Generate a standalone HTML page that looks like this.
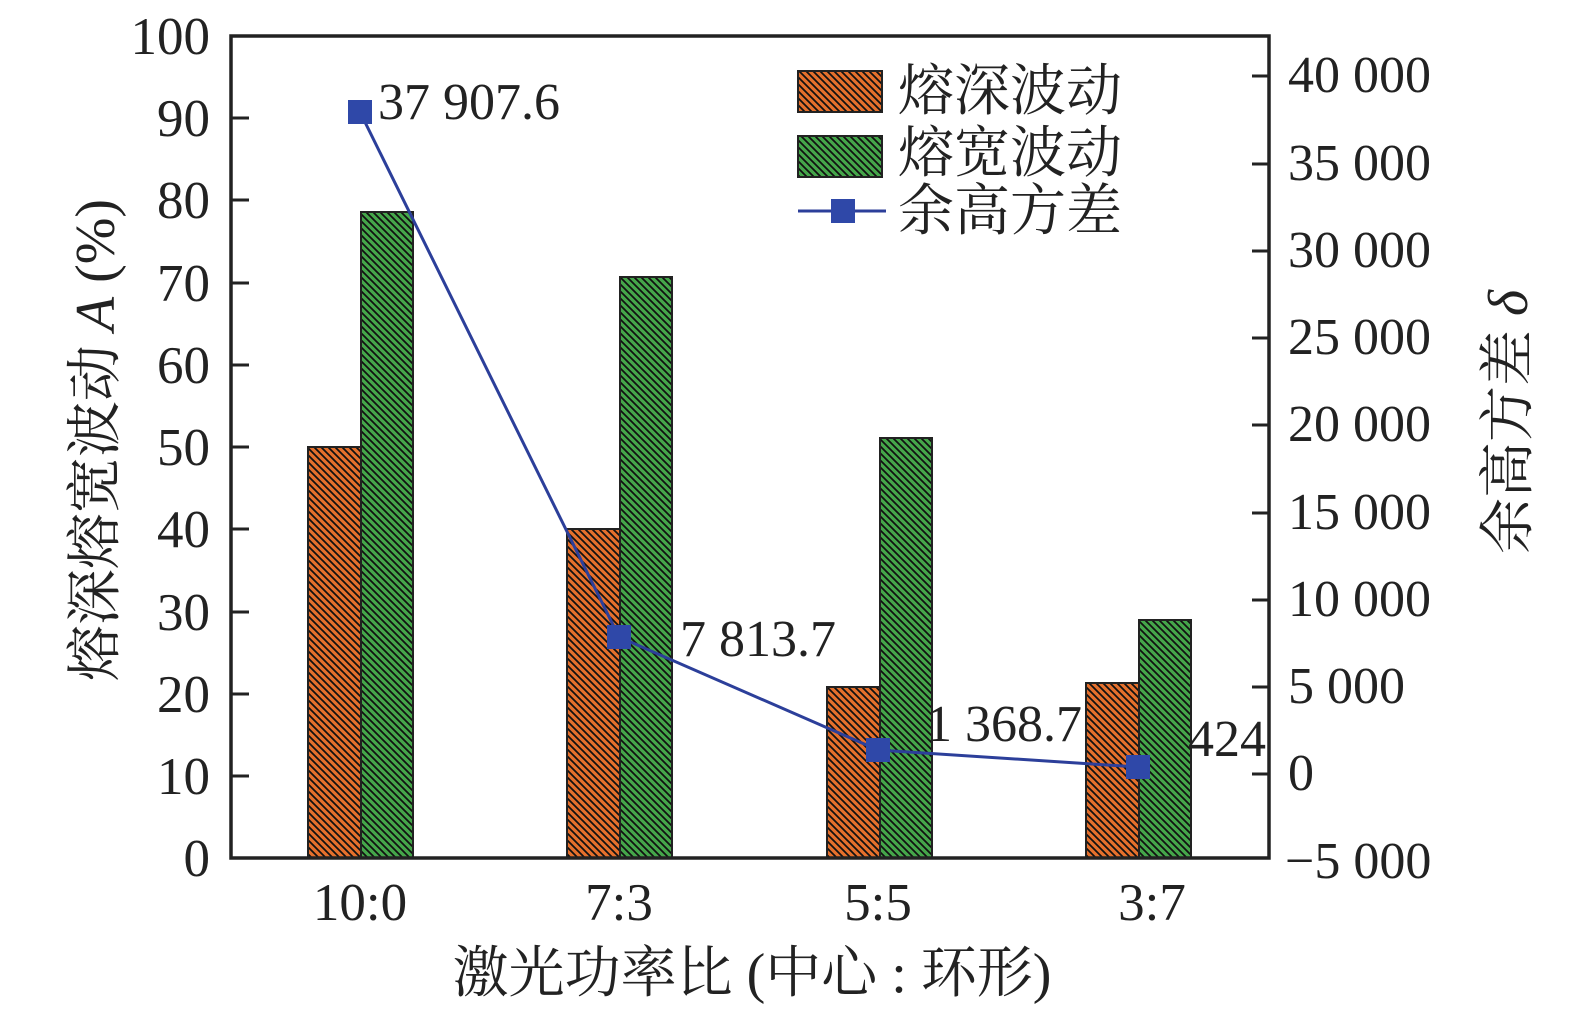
<!DOCTYPE html>
<html><head><meta charset="utf-8"><style>
body{margin:0;background:#fff}
text{font-family:"Liberation Serif","Noto Serif CJK SC",serif;fill:#222}
</style></head><body>
<svg width="1575" height="1015" xmlns="http://www.w3.org/2000/svg">
<defs>
<pattern id="h" width="7" height="7" patternUnits="userSpaceOnUse">
<path d="M-2,-2 L9,9 M-2,5 L2,9 M5,-2 L9,2" stroke="#111" stroke-width="1.8"/>
</pattern>
</defs>
<g stroke="#222" stroke-width="2">
<rect x="308" y="447" width="53" height="411" fill="#e5702c"/><rect x="308" y="447" width="53" height="411" fill="url(#h)"/>
<rect x="361" y="212" width="52" height="646" fill="#45a64a"/><rect x="361" y="212" width="52" height="646" fill="url(#h)"/>
<rect x="567" y="529" width="53" height="329" fill="#e5702c"/><rect x="567" y="529" width="53" height="329" fill="url(#h)"/>
<rect x="620" y="277" width="52" height="581" fill="#45a64a"/><rect x="620" y="277" width="52" height="581" fill="url(#h)"/>
<rect x="827" y="687" width="53" height="171" fill="#e5702c"/><rect x="827" y="687" width="53" height="171" fill="url(#h)"/>
<rect x="880" y="438" width="52" height="420" fill="#45a64a"/><rect x="880" y="438" width="52" height="420" fill="url(#h)"/>
<rect x="1086" y="683" width="53" height="175" fill="#e5702c"/><rect x="1086" y="683" width="53" height="175" fill="url(#h)"/>
<rect x="1139" y="620" width="52" height="238" fill="#45a64a"/><rect x="1139" y="620" width="52" height="238" fill="url(#h)"/>
</g>
<polyline points="360,112 619,637 878,750 1138,767" fill="none" stroke="#2c3f9a" stroke-width="3"/>
<g fill="#2f48a8">
<rect x="348" y="100" width="24" height="24"/><rect x="607" y="625" width="24" height="24"/>
<rect x="866" y="738" width="24" height="24"/><rect x="1126" y="755" width="24" height="24"/>
</g>
<rect x="231" y="36" width="1038" height="822" fill="none" stroke="#222" stroke-width="3.5"/>
<g stroke="#222" stroke-width="3">
<path d="M231,776H249M231,694H249M231,612H249M231,529H249M231,447H249M231,365H249M231,283H249M231,200H249M231,118H249"/>
<path d="M1252,76H1269M1252,164H1269M1252,251H1269M1252,338H1269M1252,425H1269M1252,513H1269M1252,600H1269M1252,687H1269M1252,774H1269"/>
</g>
<g font-size="53" text-anchor="end">
<text x="210" y="876">0</text><text x="210" y="794">10</text><text x="210" y="712">20</text><text x="210" y="630">30</text><text x="210" y="547">40</text><text x="210" y="465">50</text><text x="210" y="383">60</text><text x="210" y="301">70</text><text x="210" y="218">80</text><text x="210" y="136">90</text><text x="210" y="54">100</text>
</g>
<g font-size="52">
<text x="1288" y="92">40 000</text><text x="1288" y="180">35 000</text><text x="1288" y="267">30 000</text><text x="1288" y="354">25 000</text><text x="1288" y="441">20 000</text><text x="1288" y="529">15 000</text><text x="1288" y="616">10 000</text><text x="1288" y="703">5 000</text><text x="1288" y="790">0</text><text x="1285" y="878">−5 000</text>
</g>
<g font-size="53" text-anchor="middle">
<text x="360" y="920">10:0</text><text x="619" y="920">7:3</text><text x="878" y="920">5:5</text><text x="1152" y="920">3:7</text>
</g>
<text font-size="56" x="752" y="992" text-anchor="middle">激光功率比 (中心 : 环形)</text>
<g font-size="52">
<text x="378" y="119">37 907.6</text><text x="680" y="656">7 813.7</text><text x="926" y="741">1 368.7</text><text x="1188" y="756">424</text>
</g>
<text font-size="56" text-anchor="middle" transform="translate(114,440) rotate(-90)">熔深熔宽波动 <tspan font-style="italic">A</tspan> (%)</text>
<text font-size="56" text-anchor="middle" transform="translate(1527,422) rotate(-90)">余高方差 <tspan font-style="italic">δ</tspan></text>
<g stroke="#222" stroke-width="2">
<rect x="798" y="71" width="84" height="41" fill="#e5702c"/><rect x="798" y="71" width="84" height="41" fill="url(#h)"/>
<rect x="798" y="136" width="84" height="41" fill="#45a64a"/><rect x="798" y="136" width="84" height="41" fill="url(#h)"/>
</g>
<path d="M798,211H886" stroke="#2c3f9a" stroke-width="3"/>
<rect x="831" y="199" width="24" height="24" fill="#2f48a8"/>
<g font-size="56">
<text x="898" y="110">熔深波动</text><text x="898" y="172">熔宽波动</text><text x="898" y="230">余高方差</text>
</g>
</svg>
</body></html>
